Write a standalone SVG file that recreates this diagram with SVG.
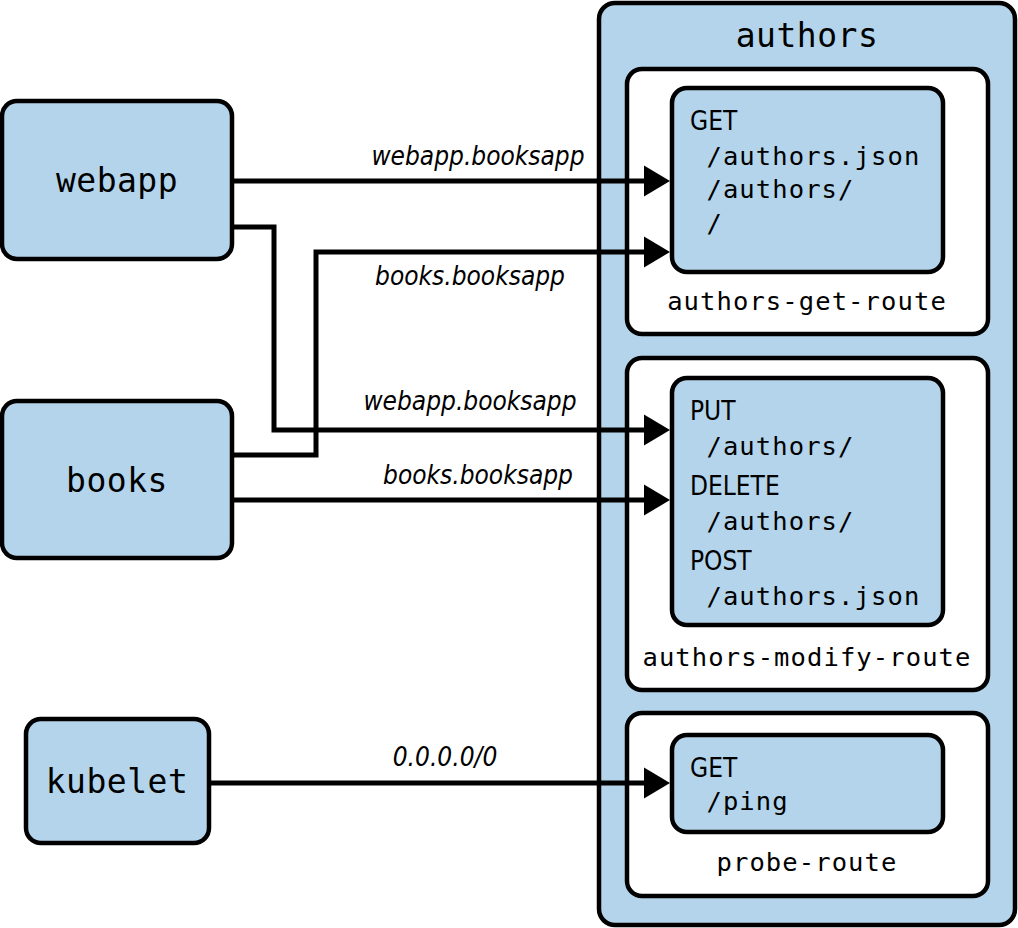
<svg xmlns="http://www.w3.org/2000/svg" width="1018" height="928" viewBox="0 0 1018 928">
<style>
.box{fill:#b3d4ea;stroke:#000;stroke-width:4.5}
.route{fill:#fff;stroke:#000;stroke-width:4.5}
.mono{font-family:"DejaVu Sans Mono","Liberation Mono",monospace;fill:#000}
.big{font-size:33px;letter-spacing:0.5px}
.small{font-size:25.5px;letter-spacing:1.1px}
.verb{font-family:"DejaVu Sans Condensed","DejaVu Sans","Liberation Sans",sans-serif;font-stretch:condensed;font-size:26px;fill:#000}
.lbl{font-family:"DejaVu Sans Condensed","DejaVu Sans","Liberation Sans",sans-serif;font-stretch:condensed;font-style:italic;font-size:26px;fill:#000;text-anchor:middle}
.edge{fill:none;stroke:#000;stroke-width:5;marker-end:url(#arr)}
</style>
<defs>
<marker id="arr" markerUnits="userSpaceOnUse" markerWidth="26" markerHeight="31" refX="14" refY="15.5" orient="auto" overflow="visible">
<path d="M0,0 L26,15.5 L0,31 Z" fill="#000"/>
</marker>
</defs>
<rect width="1018" height="928" fill="#fff"/>

<g id="authors">
<rect class="box" x="599" y="3" width="416" height="922" rx="16"/>
<text class="mono big" x="807" y="47" text-anchor="middle">authors</text>
</g>

<g id="authors-get-route">
<rect class="route" x="627" y="69" width="361" height="265" rx="15"/>
<rect class="box" x="672" y="88" width="271" height="184" rx="15"/>
<text class="verb" x="690" y="130">GET</text>
<text class="mono small" x="690" y="165" xml:space="preserve"> /authors.json</text>
<text class="mono small" x="690" y="198" xml:space="preserve"> /authors/</text>
<text class="mono small" x="690" y="232" xml:space="preserve"> /</text>
<text class="mono small" x="807" y="310" text-anchor="middle">authors-get-route</text>
</g>

<g id="authors-modify-route">
<rect class="route" x="627" y="358" width="361" height="332" rx="15"/>
<rect class="box" x="672" y="378" width="271" height="247" rx="15"/>
<text class="verb" x="690" y="420">PUT</text>
<text class="mono small" x="690" y="455" xml:space="preserve"> /authors/</text>
<text class="verb" x="690" y="495">DELETE</text>
<text class="mono small" x="690" y="530" xml:space="preserve"> /authors/</text>
<text class="verb" x="690" y="570">POST</text>
<text class="mono small" x="690" y="605" xml:space="preserve"> /authors.json</text>
<text class="mono small" x="807" y="666" text-anchor="middle">authors-modify-route</text>
</g>

<g id="probe-route">
<rect class="route" x="627" y="713" width="361" height="183" rx="15"/>
<rect class="box" x="672" y="735" width="271" height="97" rx="15"/>
<text class="verb" x="690" y="777">GET</text>
<text class="mono small" x="690" y="810" xml:space="preserve"> /ping</text>
<text class="mono small" x="807" y="871" text-anchor="middle">probe-route</text>
</g>

<g id="webapp">
<rect class="box" x="2" y="101" width="230" height="158" rx="15"/>
<text class="mono big" x="117" y="192" text-anchor="middle">webapp</text>
</g>

<g id="books">
<rect class="box" x="2" y="401" width="230" height="157" rx="15"/>
<text class="mono big" x="117" y="492" text-anchor="middle">books</text>
</g>

<g id="kubelet">
<rect class="box" x="26" y="719" width="183" height="124" rx="15"/>
<text class="mono big" x="117" y="793" text-anchor="middle">kubelet</text>
</g>

<g id="connectors">
<path class="edge" d="M232,181 H658"/>
<path class="edge" d="M232,227 H274 V430 H658"/>
<path class="edge" d="M232,455 H316 V252 H658"/>
<path class="edge" d="M232,500 H658"/>
<path class="edge" d="M209,783 H658"/>
<text class="lbl" x="478" y="165">webapp.booksapp</text>
<text class="lbl" x="470" y="285">books.booksapp</text>
<text class="lbl" x="470" y="410">webapp.booksapp</text>
<text class="lbl" x="478" y="484">books.booksapp</text>
<text class="lbl" x="445" y="766">0.0.0.0/0</text>
</g>
</svg>
